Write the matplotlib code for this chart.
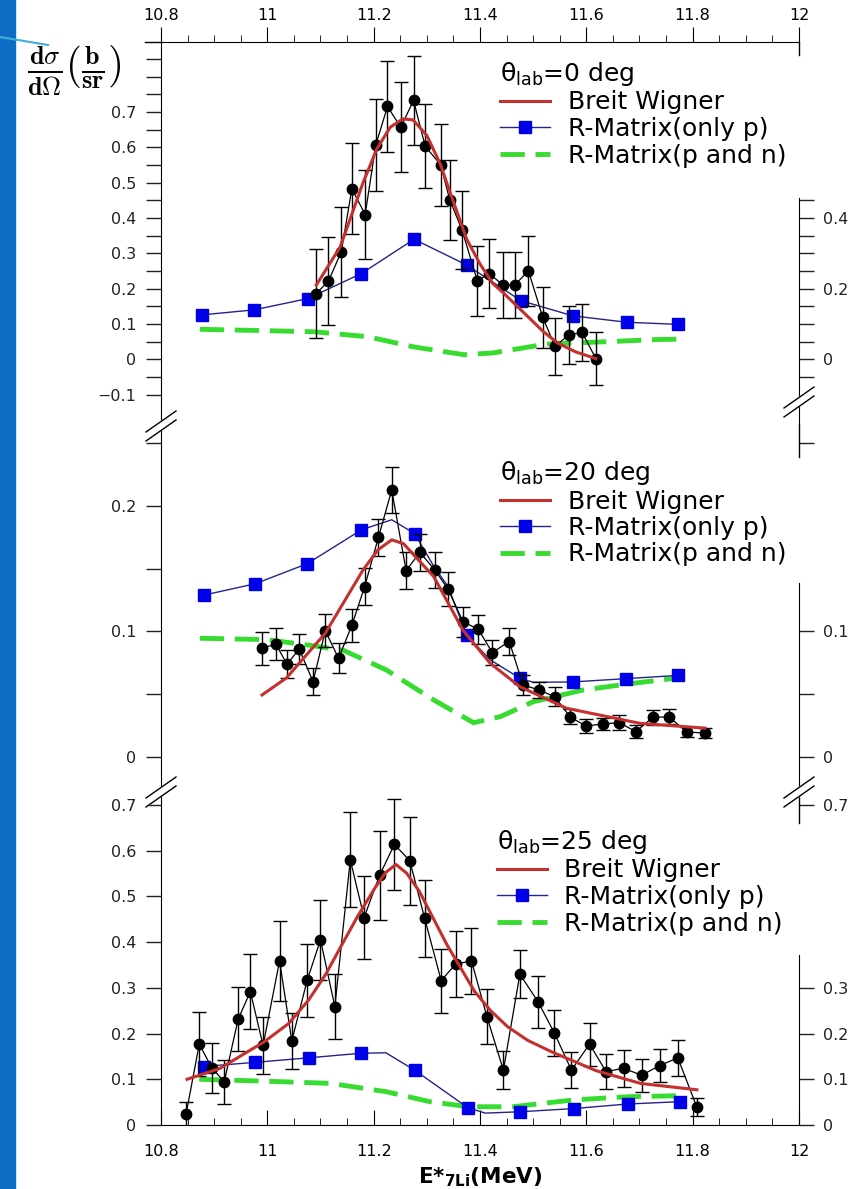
import matplotlib
matplotlib.use("Agg")
import matplotlib.pyplot as plt
from matplotlib.lines import Line2D
from matplotlib.patches import Polygon, Rectangle

# ---------------- data ----------------
# theta_lab = 0 deg
e0 = [11.092, 11.115, 11.139, 11.159, 11.184, 11.204, 11.226, 11.251, 11.275, 11.297,
      11.326, 11.343, 11.366, 11.395, 11.417, 11.443, 11.466, 11.491, 11.518, 11.541,
      11.567, 11.592, 11.618]
y0 = [0.186, 0.222, 0.304, 0.483, 0.410, 0.607, 0.716, 0.657, 0.733, 0.603,
      0.551, 0.452, 0.367, 0.222, 0.243, 0.211, 0.211, 0.251, 0.119, 0.037,
      0.069, 0.076, 0.002]
dy0 = [0.127, 0.125, 0.128, 0.129, 0.125, 0.130, 0.129, 0.127, 0.125, 0.119,
       0.116, 0.113, 0.110, 0.100, 0.099, 0.094, 0.093, 0.099, 0.086, 0.081,
       0.081, 0.080, 0.074]
bw0_e = [11.092, 11.137, 11.180, 11.206, 11.231, 11.255, 11.274, 11.300, 11.325, 11.349,
         11.375, 11.400, 11.424, 11.444, 11.477, 11.518, 11.545, 11.580, 11.618]
bw0_y = [0.210, 0.318, 0.500, 0.596, 0.657, 0.681, 0.678, 0.634, 0.554, 0.450,
         0.340, 0.270, 0.215, 0.188, 0.140, 0.080, 0.047, 0.021, 0.002]
rp0_e = [10.878, 10.975, 11.076, 11.177, 11.276, 11.375, 11.477, 11.575, 11.676, 11.772]
rp0_y = [0.126, 0.140, 0.172, 0.243, 0.340, 0.267, 0.166, 0.123, 0.105, 0.099]
rpl0_e = rp0_e
rpl0_y = rp0_y
rpn0_e = [10.873, 11.000, 11.088, 11.189, 11.276, 11.370, 11.424, 11.524, 11.639, 11.733, 11.772]
rpn0_y = [0.085, 0.081, 0.078, 0.064, 0.035, 0.013, 0.018, 0.043, 0.050, 0.056, 0.057]

# theta_lab = 20 deg
e20 = [10.990, 11.016, 11.037, 11.060, 11.086, 11.109, 11.134, 11.159, 11.183, 11.209,
       11.234, 11.261, 11.287, 11.315, 11.340, 11.368, 11.397, 11.423, 11.455, 11.481,
       11.511, 11.541, 11.569, 11.599, 11.631, 11.662, 11.693, 11.725, 11.755, 11.789,
       11.823]
y20 = [0.0866, 0.0900, 0.0739, 0.0860, 0.0600, 0.1006, 0.0786, 0.1050, 0.1357, 0.1750,
       0.2127, 0.1485, 0.1630, 0.1490, 0.1336, 0.1078, 0.1017, 0.0832, 0.0920, 0.0574,
       0.0534, 0.0480, 0.0321, 0.0247, 0.0263, 0.0274, 0.0202, 0.0316, 0.0320, 0.0200,
       0.0190]
dy20 = [0.0133, 0.0125, 0.0110, 0.0120, 0.0110, 0.0130, 0.0120, 0.0130, 0.0150, 0.0150,
        0.0180, 0.0146, 0.0150, 0.0140, 0.0135, 0.0120, 0.0115, 0.0097, 0.0104, 0.0080,
        0.0067, 0.0075, 0.0060, 0.0055, 0.0050, 0.0060, 0.0050, 0.0060, 0.0060, 0.0040,
        0.0040]
bw20_e = [10.990, 11.036, 11.109, 11.180, 11.208, 11.234, 11.256, 11.313, 11.368, 11.419,
          11.475, 11.563, 11.701, 11.823]
bw20_y = [0.0494, 0.0630, 0.0986, 0.1490, 0.1650, 0.1730, 0.1700, 0.1437, 0.1010, 0.0747,
          0.0560, 0.0388, 0.0268, 0.0230]
rp20_e = [10.881, 10.977, 11.075, 11.177, 11.277, 11.375, 11.475, 11.574, 11.674, 11.772]
rp20_y = [0.129, 0.138, 0.154, 0.181, 0.178, 0.097, 0.0627, 0.0598, 0.0624, 0.065]
rpl20_e = [10.881, 10.977, 11.075, 11.177, 11.234, 11.277, 11.313, 11.340, 11.375, 11.419,
           11.475, 11.500, 11.574, 11.674, 11.772]
rpl20_y = [0.129, 0.138, 0.154, 0.181, 0.189, 0.178, 0.152, 0.1357, 0.097, 0.0775,
           0.0627, 0.0595, 0.0598, 0.0624, 0.065]
rpn20_e = [10.873, 10.999, 11.080, 11.143, 11.224, 11.313, 11.388, 11.438, 11.500, 11.594,
           11.688, 11.772]
rpn20_y = [0.0946, 0.0935, 0.0890, 0.0850, 0.0693, 0.0454, 0.0273, 0.0321, 0.0440, 0.0534,
           0.0587, 0.0630]

# theta_lab = 25 deg
e25 = [10.847, 10.872, 10.896, 10.919, 10.945, 10.968, 10.992, 11.023, 11.046, 11.075,
       11.100, 11.127, 11.156, 11.182, 11.211, 11.239, 11.268, 11.296, 11.327, 11.354,
       11.384, 11.413, 11.444, 11.475, 11.509, 11.540, 11.572, 11.606, 11.637, 11.670,
       11.704, 11.738, 11.772, 11.808]
y25 = [0.023, 0.177, 0.124, 0.095, 0.231, 0.292, 0.174, 0.359, 0.184, 0.317,
       0.405, 0.259, 0.580, 0.454, 0.546, 0.614, 0.578, 0.452, 0.316, 0.352,
       0.359, 0.237, 0.120, 0.330, 0.270, 0.201, 0.120, 0.177, 0.117, 0.124,
       0.109, 0.130, 0.147, 0.039]
dy25 = [0.027, 0.070, 0.055, 0.048, 0.070, 0.082, 0.062, 0.088, 0.062, 0.080,
        0.087, 0.071, 0.104, 0.090, 0.097, 0.099, 0.097, 0.084, 0.070, 0.073,
        0.072, 0.060, 0.042, 0.053, 0.057, 0.051, 0.040, 0.047, 0.038, 0.040,
        0.036, 0.037, 0.039, 0.020]
bw25_e = [10.849, 10.911, 10.994, 11.040, 11.078, 11.110, 11.140, 11.170, 11.202, 11.222,
          11.242, 11.262, 11.286, 11.338, 11.390, 11.420, 11.452, 11.490, 11.535, 11.618,
          11.702, 11.808]
bw25_y = [0.100, 0.124, 0.182, 0.222, 0.274, 0.330, 0.394, 0.457, 0.518, 0.552,
          0.570, 0.551, 0.511, 0.394, 0.292, 0.250, 0.215, 0.185, 0.160, 0.119,
          0.091, 0.077]
rp25_e = [10.880, 10.976, 11.078, 11.176, 11.277, 11.377, 11.476, 11.577, 11.678, 11.776]
rp25_y = [0.128, 0.137, 0.147, 0.157, 0.120, 0.038, 0.029, 0.036, 0.046, 0.051]
rpl25_e = [10.880, 10.976, 11.078, 11.176, 11.223, 11.277, 11.377, 11.410, 11.476, 11.577,
           11.678, 11.776]
rpl25_y = [0.128, 0.137, 0.147, 0.157, 0.158, 0.120, 0.038, 0.026, 0.029, 0.036,
           0.046, 0.051]
rpn25_e = [10.872, 10.994, 11.119, 11.223, 11.306, 11.379, 11.462, 11.577, 11.681, 11.776]
rpn25_y = [0.100, 0.096, 0.091, 0.073, 0.051, 0.040, 0.040, 0.055, 0.062, 0.064]

labels = ["Breit Wigner", "R-Matrix(only p)", "R-Matrix(p and n)"]
xt = [10.8, 11.0, 11.2, 11.4, 11.6, 11.8, 12.0]
xt_lab = ["10.8", "11", "11.2", "11.4", "11.6", "11.8", "12"]
xt_minor = [10.85, 10.9, 10.95, 11.05, 11.1, 11.15, 11.25, 11.3, 11.35, 11.45, 11.5, 11.55,
            11.65, 11.7, 11.75, 11.85, 11.9, 11.95]

RED = "#c3302e"
BLUE = "#0000e8"
NAVY = "#23238c"
GREEN = "#38dc30"

W, H = 864, 1189
fig = plt.figure(figsize=(W / 100, H / 100), dpi=100)


def fx(x):
    return x / W


def fy(y):
    return 1 - y / H


def lab(v):
    s = "%g" % v
    return s.replace("-", "\u2212")


def panel(top, bottom, ylim):
    ax = fig.add_axes([fx(161), fy(bottom), 638 / W, (bottom - top) / H])
    ax.set_xlim(10.8, 12.0)
    ax.set_ylim(*ylim)
    ax.patch.set_alpha(0)
    for s in ("top", "bottom", "right"):
        ax.spines[s].set_visible(False)
    ax.tick_params(axis="y", which="both", direction="out", length=11, width=1,
                   labelsize=11.5, pad=7, colors="#222222")
    ax.tick_params(axis="x", which="both", bottom=False, labelbottom=False)
    rax = ax.twinx()
    rax.set_ylim(*ylim)
    for s in ("top", "bottom", "left"):
        rax.spines[s].set_visible(False)
    rax.tick_params(axis="y", which="both", direction="out", length=11, width=1,
                    labelsize=11.5, pad=6, colors="#222222")
    return ax, rax


def draw(ax, e, y, dy, bw_e, bw_y, rp_e, rp_y, rpl_e, rpl_y, rpn_e, rpn_y):
    ax.plot(rpn_e, rpn_y, color=GREEN, lw=3.5, dashes=(5, 2.2), zorder=2)
    ax.plot(rpl_e, rpl_y, color=NAVY, lw=1, zorder=3)
    ax.plot(rp_e, rp_y, ls="none", marker="s", ms=8, color=BLUE, zorder=3)
    ax.errorbar(e, y, yerr=dy, fmt="o-", color="black", ms=7.5, lw=0.9,
                elinewidth=1, capsize=5, capthick=1, zorder=4)
    ax.plot(bw_e, bw_y, color=RED, lw=2.2, zorder=5)


def legend(ax, angle, x0, y0):
    hs = [Line2D([], [], color=RED, lw=2.2),
          Line2D([], [], color=NAVY, lw=1, marker="s", ms=8, mfc=BLUE, mec=BLUE),
          Line2D([], [], color=GREEN, lw=3.5, dashes=(5, 2.2))]
    ax.legend(hs, labels, title="\u03b8$_{\\mathregular{lab}}$=%d deg" % angle,
              loc="upper left", bbox_to_anchor=(fx(x0), fy(y0)),
              bbox_transform=fig.transFigure, frameon=False, fontsize=18,
              title_fontsize=18, alignment="left", handlelength=2.0,
              handletextpad=0.7, labelspacing=0.1, borderpad=0, borderaxespad=0,
              numpoints=1)


def stub(rax, y_hi, y_lo):
    rax.plot([1, 1], [y_hi, y_lo], color="black", lw=1,
             transform=rax.get_yaxis_transform(), clip_on=False)


def brk(xc, yc):
    pts = [(xc - 15, yc + 6), (xc + 15, yc - 15), (xc + 15, yc - 6), (xc - 15, yc + 15)]
    fig.add_artist(Polygon([(fx(a), fy(b)) for a, b in pts], closed=True,
                           transform=fig.transFigure, color="white", zorder=20))
    for d in (6, 15):
        fig.add_artist(Line2D([fx(xc - 15), fx(xc + 15)], [fy(yc + d), fy(yc + d - 21)],
                              transform=fig.transFigure, color="black", lw=1, zorder=21))


# ---------------- top panel ----------------
ax0, r0 = panel(41.5, 425, (-0.186, 0.9))
draw(ax0, e0, y0, dy0, bw0_e, bw0_y, rp0_e, rp0_y, rpl0_e, rpl0_y, rpn0_e, rpn0_y)
ax0.spines["top"].set_visible(True)
ax0.xaxis.tick_top()
ax0.set_xticks(xt, xt_lab)
ax0.set_xticks(xt_minor, minor=True)
ax0.tick_params(axis="x", which="major", top=True, labeltop=True, direction="out",
                length=11, labelsize=11.5, pad=2)
ax0.tick_params(axis="x", which="minor", top=True, direction="out", length=5)
yt0 = [-0.1, 0, 0.1, 0.2, 0.3, 0.4, 0.5, 0.6, 0.7, 0.8]
ax0.set_yticks(yt0, [lab(v) for v in yt0[:-1]] + [""])
ax0.set_yticks([-0.05, 0.05, 0.15, 0.25, 0.35, 0.45, 0.55, 0.65, 0.75, 0.85], minor=True)
r0.set_yticks([0, 0.2, 0.4], ["0", "0.2", "0.4"])
r0.set_yticks([-0.05, 0.05, 0.1, 0.15, 0.25, 0.3, 0.35, 0.45], minor=True)
r0.spines["right"].set_bounds(-0.186, 0.458)
stub(r0, 0.9, 0.862)
legend(ax0, 0, 500, 60)

# ---------------- middle panel ----------------
ax1, r1 = panel(425, 790, (-0.0263, 0.2645))
draw(ax1, e20, y20, dy20, bw20_e, bw20_y, rp20_e, rp20_y, rpl20_e, rpl20_y, rpn20_e, rpn20_y)
ax1.set_yticks([0, 0.1, 0.2], ["0", "0.1", "0.2"])
ax1.set_yticks([0.05, 0.15, 0.25], minor=True)
r1.set_yticks([0, 0.1], ["0", "0.1"])
r1.set_yticks([0.05, 0.25], minor=True)
r1.spines["right"].set_bounds(-0.0263, 0.1386)
stub(r1, 0.2645, 0.239)
legend(ax1, 20, 500, 459)

# ---------------- bottom panel ----------------
ax2, r2 = panel(790, 1125, (0, 0.733))
draw(ax2, e25, y25, dy25, bw25_e, bw25_y, rp25_e, rp25_y, rpl25_e, rpl25_y, rpn25_e, rpn25_y)
ax2.spines["bottom"].set_visible(True)
ax2.set_xticks(xt, xt_lab)
ax2.set_xticks(xt_minor, minor=True)
ax2.tick_params(axis="x", which="major", bottom=True, labelbottom=True, direction="in",
                length=11, labelsize=11.5, pad=14)
ax2.tick_params(axis="x", which="minor", bottom=True, direction="in", length=5)
yt2 = [0, 0.1, 0.2, 0.3, 0.4, 0.5, 0.6, 0.7]
ax2.set_yticks(yt2, [lab(v) for v in yt2])
r2.set_yticks([0, 0.1, 0.2, 0.3, 0.7], ["0", "0.1", "0.2", "0.3", "0.7"])
r2.spines["right"].set_bounds(0, 0.372)
stub(r2, 0.733, 0.661)
legend(ax2, 25, 497, 828)

# ---------------- decorations ----------------
fig.add_artist(Line2D([fx(145), fx(161)], [fy(41.5), fy(41.5)], transform=fig.transFigure,
                      color="black", lw=1))
for xc, yc in [(161, 426), (799, 402), (161, 792), (799, 792)]:
    brk(xc, yc)

fig.text(fx(74), fy(70),
         r"$\frac{\mathbf{d}\sigma}{\mathbf{d}\Omega}\left(\frac{\mathbf{b}}{\mathbf{sr}}\right)$",
         math_fontfamily="cm", fontsize=27, ha="center", va="center")
fig.text(fx(480), fy(1177), r"E*$_{\mathbf{7Li}}$(MeV)", fontweight="bold", fontsize=15.5,
         ha="center", va="center")

# slide background strip on the left
fig.add_artist(Rectangle((0, 0), fx(15), 1, transform=fig.transFigure,
                         color="#0c6cc6", zorder=30))
fig.add_artist(Line2D([0, fx(48)], [fy(37), fy(45)], transform=fig.transFigure,
                      color="#3fb0dc", lw=1.5, zorder=31))

fig.savefig("out.png", dpi=100)
